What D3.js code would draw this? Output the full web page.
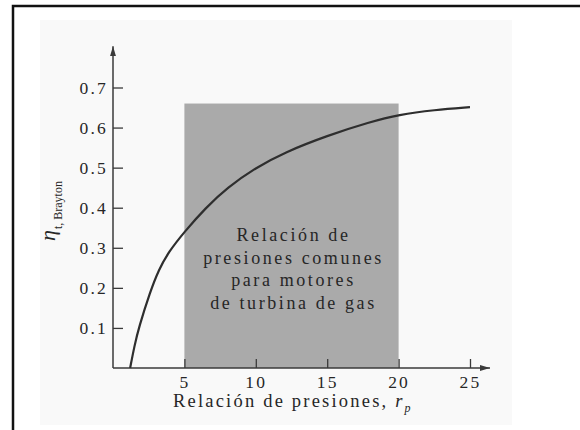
<!DOCTYPE html>
<html>
<head>
<meta charset="utf-8">
<script src="https://cdn.jsdelivr.net/npm/d3@7"></script>
<style>
  html, body { margin: 0; padding: 0; background: #fff; }
  svg { display: block; }
  text { font-family: "Liberation Serif", "Times New Roman", serif; fill: #262626; }
</style>
</head>
<body>
<div id="chart"></div>
<script>
// values
var rpValues  = [1.2, 1.5, 1.8, 2.6, 3.2, 3.9, 5, 6.5, 8, 10, 12, 15, 18, 20, 22.5, 25];
var etaValues = [0, 0.055, 0.1, 0.19, 0.245, 0.29, 0.34, 0.4, 0.45, 0.5, 0.538, 0.58, 0.614, 0.632, 0.644, 0.651];
var xTicks = [5, 10, 15, 20, 25];
var yTicks = [0.1, 0.2, 0.3, 0.4, 0.5, 0.6, 0.7];
var band = { from: 5, to: 20, top: 0.66 };
var bandLines = ["Relación de", "presiones comunes", "para motores", "de turbina de gas"];
var xTitle = "Relación de presiones, ";
var yTitleMain = "η";
var yTitleSub = "t, Brayton";

var W = 580, H = 430;

var svg = d3.select("#chart").append("svg")
  .attr("width", W)
  .attr("height", H);

// scanned page look: faint panel and a frame on left/top
svg.append("rect")
  .attr("x", 40).attr("y", 20)
  .attr("width", 472).attr("height", 405)
  .attr("fill", "#f9f9f9");

svg.append("path")
  .attr("d", "M13,440V6H590")
  .attr("fill", "none")
  .attr("stroke", "#111")
  .attr("stroke-width", 2.5);

var x = d3.scaleLinear().domain([0, 25]).range([113, 470]);
var y = d3.scaleLinear().domain([0, 0.7]).range([368, 87.5]);

// arrow marker
svg.append("defs").append("marker")
  .attr("id", "arrow")
  .attr("viewBox", "0 0 10 6")
  .attr("refX", 10).attr("refY", 3)
  .attr("markerWidth", 10).attr("markerHeight", 6)
  .attr("markerUnits", "userSpaceOnUse")
  .attr("orient", "auto")
  .append("path")
    .attr("d", "M0,0L10,3L0,6Z")
    .attr("fill", "#3a3a3a");

// shaded band of common pressure ratios
svg.append("rect")
  .attr("x", x(band.from))
  .attr("y", y(band.top))
  .attr("width", x(band.to) - x(band.from))
  .attr("height", y(0) - y(band.top))
  .attr("fill", "#aaaaaa");

var bandText = svg.append("text")
  .attr("text-anchor", "middle")
  .attr("font-size", 18)
  .attr("letter-spacing", 2.6);
bandLines.forEach(function(line, i) {
  bandText.append("tspan")
    .attr("x", (x(band.from) + x(band.to)) / 2 + 2)
    .attr("y", 241 + i * 22.5)
    .text(line);
});

// axes
var xAxis = d3.axisBottom(x)
  .tickValues(xTicks)
  .tickSize(-9)
  .tickPadding(8)
  .tickFormat(d3.format("d"));

var gx = svg.append("g")
  .attr("transform", "translate(0," + y(0) + ")")
  .call(xAxis);

var yAxis = d3.axisLeft(y)
  .tickValues(yTicks)
  .tickSize(-10)
  .tickPadding(5)
  .tickFormat(d3.format(".1f"));

var gy = svg.append("g")
  .attr("transform", "translate(" + x(0) + ",0)")
  .call(yAxis);

[gx, gy].forEach(function(g) {
  g.select(".domain").remove();
  g.selectAll(".tick line").attr("stroke", "#3a3a3a").attr("stroke-width", 1.3);
  g.selectAll(".tick text")
    .attr("font-family", "Liberation Serif, serif")
    .attr("font-size", 17.5)
    .attr("letter-spacing", 2.2)
    .attr("fill", "#262626");
});

// axis lines with arrowheads
svg.append("line")
  .attr("x1", x(0)).attr("y1", y(0))
  .attr("x2", x(26.4)).attr("y2", y(0))
  .attr("stroke", "#3a3a3a").attr("stroke-width", 1.5)
  .attr("marker-end", "url(#arrow)");

svg.append("line")
  .attr("x1", x(0)).attr("y1", y(0))
  .attr("x2", x(0)).attr("y2", y(0.803))
  .attr("stroke", "#3a3a3a").attr("stroke-width", 1.5)
  .attr("marker-end", "url(#arrow)");

// efficiency curve
var curveData = rpValues.map(function(r, i) { return { rp: r, eta: etaValues[i] }; });

var line = d3.line()
  .x(function(d) { return x(d.rp); })
  .y(function(d) { return y(d.eta); })
  .curve(d3.curveBasis);

svg.append("path")
  .datum(curveData)
  .attr("d", line)
  .attr("fill", "none")
  .attr("stroke", "#2e2e2e")
  .attr("stroke-width", 2.2);

// x axis title
var xt = svg.append("text")
  .attr("x", 173)
  .attr("y", 407)
  .attr("font-size", 18.5)
  .attr("letter-spacing", 2.2)
  .text(xTitle);
xt.append("tspan").attr("font-style", "italic").text("r");
xt.append("tspan").attr("font-style", "italic").attr("font-size", 12).attr("dy", 5).text("p");

// y axis title (rotated)
var yt = svg.append("text")
  .attr("transform", "translate(55,241) rotate(-90)")
  .attr("font-size", 22)
  .attr("font-style", "italic");
yt.append("tspan").text(yTitleMain);
yt.append("tspan")
  .attr("font-style", "normal")
  .attr("font-size", 12)
  .attr("dy", 7)
  .attr("dx", 1)
  .text(yTitleSub);
</script>
</body>
</html>
